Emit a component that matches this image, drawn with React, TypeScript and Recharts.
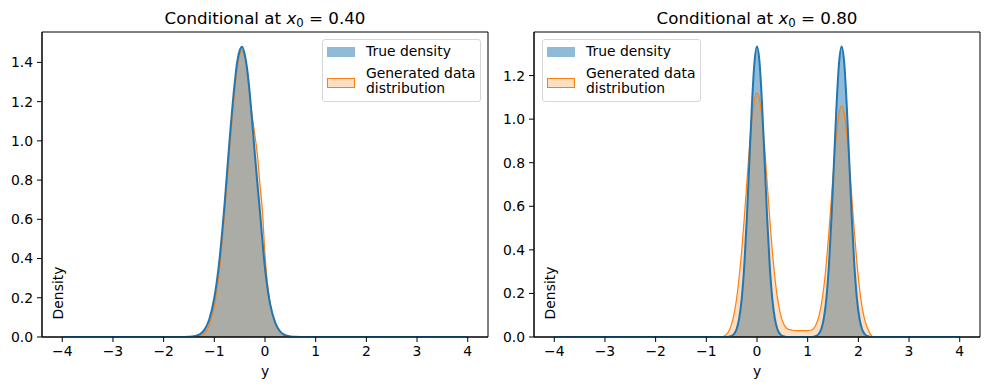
import React from 'react';
import { ComposedChart, Area, Line, XAxis, YAxis, ReferenceArea } from 'recharts';

// left panel, x0 = 0.40
const leftTrueX = [-4, -2, -1.7, -1.6, -1.5, -1.4, -1.3, -1.2, -1.1, -1.0, -0.9, -0.8, -0.7, -0.6, -0.55, -0.5, -0.45, -0.4, -0.35, -0.3, -0.25, -0.2, -0.1, 0, 0.1, 0.2, 0.3, 0.4, 0.5, 0.6, 0.7, 0.8, 2, 4];
const leftTrueY = [0, 0, 0, 0.0002, 0.0009, 0.0035, 0.012, 0.035, 0.089, 0.2, 0.39, 0.67, 1.0, 1.29, 1.4, 1.46, 1.48, 1.44, 1.36, 1.24, 1.09, 0.93, 0.64, 0.35, 0.17, 0.075, 0.028, 0.009, 0.003, 0.0007, 0.0001, 0, 0, 0];
const leftGenX = [-1.4, -1.3, -1.2, -1.1, -1.0, -0.9, -0.8, -0.7, -0.6, -0.55, -0.5, -0.45, -0.4, -0.35, -0.3, -0.25, -0.2, -0.15, -0.1, -0.05, 0, 0.05, 0.1, 0.2, 0.3, 0.4, 0.5, 0.55];
const leftGenY = [0, 0.003, 0.018, 0.06, 0.16, 0.34, 0.62, 0.95, 1.25, 1.37, 1.44, 1.46, 1.43, 1.36, 1.23, 1.12, 1.03, 0.93, 0.78, 0.64, 0.42, 0.27, 0.17, 0.07, 0.022, 0.006, 0.001, 0];

// right panel, x0 = 0.80
const rightTrueX = [-4, -1, -0.7, -0.6, -0.55, -0.5, -0.45, -0.4, -0.35, -0.3, -0.25, -0.2, -0.15, -0.1, -0.05, 0, 0.05, 0.1, 0.15, 0.2, 0.25, 0.3, 0.35, 0.4, 0.45, 0.5, 0.55, 0.6, 0.7, 0.97, 1.07, 1.12, 1.17, 1.22, 1.27, 1.32, 1.37, 1.42, 1.47, 1.52, 1.57, 1.62, 1.67, 1.72, 1.77, 1.82, 1.87, 1.92, 1.97, 2.02, 2.07, 2.12, 2.17, 2.22, 2.27, 2.37, 2.7, 4];
const rightTrueY = [0, 0, 0, 0.0004, 0.0016, 0.005, 0.015, 0.038, 0.088, 0.18, 0.332, 0.548, 0.809, 1.067, 1.261, 1.333, 1.261, 1.067, 0.809, 0.548, 0.332, 0.18, 0.088, 0.038, 0.015, 0.005, 0.0016, 0.0004, 0, 0, 0.0004, 0.0016, 0.005, 0.015, 0.038, 0.088, 0.18, 0.332, 0.548, 0.809, 1.067, 1.261, 1.333, 1.261, 1.067, 0.809, 0.548, 0.332, 0.18, 0.088, 0.038, 0.015, 0.005, 0.0016, 0.0004, 0, 0, 0];
const rightGenX = [-0.7, -0.65, -0.6, -0.55, -0.5, -0.45, -0.4, -0.35, -0.3, -0.25, -0.2, -0.15, -0.1, -0.05, 0, 0.05, 0.1, 0.15, 0.2, 0.25, 0.3, 0.35, 0.4, 0.45, 0.5, 0.55, 0.6, 0.7, 0.8, 0.9, 1.0, 1.07, 1.12, 1.17, 1.22, 1.27, 1.32, 1.37, 1.42, 1.47, 1.52, 1.57, 1.62, 1.67, 1.72, 1.77, 1.82, 1.87, 1.92, 1.97, 2.02, 2.07, 2.12, 2.17, 2.22, 2.27, 2.3];
const rightGenY = [0, 0.004, 0.012, 0.03, 0.06, 0.11, 0.18, 0.28, 0.4, 0.55, 0.71, 0.87, 1.0, 1.09, 1.12, 1.09, 1.0, 0.87, 0.71, 0.55, 0.4, 0.28, 0.185, 0.12, 0.075, 0.05, 0.038, 0.031, 0.029, 0.029, 0.029, 0.032, 0.04, 0.06, 0.095, 0.15, 0.232, 0.345, 0.485, 0.643, 0.8, 0.935, 1.027, 1.06, 1.027, 0.935, 0.8, 0.643, 0.485, 0.345, 0.229, 0.143, 0.084, 0.047, 0.02, 0.004, 0];

const xTicks = [-4, -3, -2, -1, 0, 1, 2, 3, 4];
const leftYTicks = [0, 0.2, 0.4, 0.6, 0.8, 1.0, 1.2, 1.4];
const rightYTicks = [0, 0.2, 0.4, 0.6, 0.8, 1.0, 1.2];

const FONT = '"DejaVu Sans", sans-serif';
const BLUE = '#1f77b4';
const ORANGE = '#ff7f0e';

const toPoints = (xs: number[], ys: number[]) => xs.map((x, i) => ({ x, y: ys[i] }));
const fmtX = (v: number) => (v < 0 ? '\u2212' + Math.abs(v) : String(v));

type PanelProps = {
  left: number;
  width: number;
  marginLeft: number;
  marginRight: number;
  trueX: number[];
  trueY: number[];
  genX: number[];
  genY: number[];
  yMax: number;
  yTicks: number[];
  x0: string;
  legendLeft: number;
};

const Panel = (p: PanelProps) => {
  const trueData = toPoints(p.trueX, p.trueY);
  const genData = toPoints(p.genX, p.genY);
  const plotLeft = p.marginLeft + 36;
  const plotW = p.width - plotLeft - p.marginRight;
  return (
    <div style={{ position: 'absolute', left: p.left, top: 0, width: p.width, height: 390 }}>
      <ComposedChart width={p.width} height={390} margin={{ top: 32, right: p.marginRight, bottom: 23, left: p.marginLeft }}>
        <XAxis
          dataKey="x"
          type="number"
          domain={[-4.4, 4.4]}
          allowDataOverflow
          ticks={xTicks}
          tickFormatter={fmtX}
          stroke="#000"
          tickSize={5}
          tickMargin={4}
          height={30}
          tick={{ fill: '#000', fontSize: 13.9, fontFamily: FONT }}
        />
        <YAxis
          type="number"
          domain={[0, p.yMax]}
          allowDataOverflow
          ticks={p.yTicks}
          tickFormatter={(v: number) => v.toFixed(1)}
          stroke="#000"
          tickSize={5}
          tickMargin={4}
          width={36}
          tick={{ fill: '#000', fontSize: 13.9, fontFamily: FONT }}
        />
        <Area data={trueData} dataKey="y" type="monotone" stroke="none" fill={BLUE} fillOpacity={0.5} isAnimationActive={false} activeDot={false} />
        <Area data={genData} dataKey="y" type="monotone" stroke={ORANGE} strokeWidth={1.2} fill={ORANGE} fillOpacity={0.25} isAnimationActive={false} activeDot={false} />
        <Line data={trueData} dataKey="y" type="monotone" stroke={BLUE} strokeWidth={2} dot={false} activeDot={false} isAnimationActive={false} />
        <ReferenceArea x1={-4.4} x2={4.4} y1={0} y2={p.yMax} fill="none" stroke="#000" strokeWidth={1} ifOverflow="visible" />
      </ComposedChart>

      <div style={{ position: 'absolute', left: plotLeft, width: plotW, top: 8, textAlign: 'center', fontFamily: FONT, fontSize: 16.7, lineHeight: '20px', color: '#000', whiteSpace: 'nowrap' }}>
        Conditional at <span style={{ fontStyle: 'oblique' }}>x</span>
        <span style={{ fontSize: 11.7, position: 'relative', top: 3 }}>0</span> = {p.x0}
      </div>

      <div style={{ position: 'absolute', left: plotLeft, width: plotW, top: 364, textAlign: 'center', fontFamily: FONT, fontSize: 13.9, lineHeight: '15px' }}>
        y
      </div>

      <div style={{ position: 'absolute', left: plotLeft + 15.5, top: 292.5, transform: 'translate(-50%, -50%) rotate(-90deg)', fontFamily: FONT, fontSize: 13.9, lineHeight: '15px', whiteSpace: 'nowrap' }}>
        Density
      </div>

      <div style={{ position: 'absolute', left: p.legendLeft, top: 39, width: 157, height: 61, border: '1px solid #d6d6d6', borderRadius: 3, background: 'rgba(255,255,255,0.8)', fontFamily: FONT, fontSize: 13.9, lineHeight: '15px', color: '#000' }}>
        <div style={{ position: 'absolute', left: 4, top: 7, width: 28, height: 10, background: '#8fbbd9' }} />
        <div style={{ position: 'absolute', left: 43, top: 4, whiteSpace: 'nowrap' }}>True density</div>
        <div style={{ position: 'absolute', left: 4, top: 38, width: 26, height: 8, background: '#ffdfc3', border: `1px solid ${ORANGE}` }} />
        <div style={{ position: 'absolute', left: 43, top: 26, whiteSpace: 'nowrap' }}>
          Generated data
          <br />
          distribution
        </div>
      </div>
    </div>
  );
};

export default function App() {
  return (
    <div style={{ position: 'absolute', left: 0, top: 0, width: 989, height: 390, background: '#fff' }}>
      <Panel left={0} width={495} marginLeft={6} marginRight={7} trueX={leftTrueX} trueY={leftTrueY} genX={leftGenX} genY={leftGenY} yMax={1.555} yTicks={leftYTicks} x0="0.40" legendLeft={322} />
      <Panel left={495} width={494} marginLeft={3} marginRight={9} trueX={rightTrueX} trueY={rightTrueY} genX={rightGenX} genY={rightGenY} yMax={1.4} yTicks={rightYTicks} x0="0.80" legendLeft={47} />
    </div>
  );
}
